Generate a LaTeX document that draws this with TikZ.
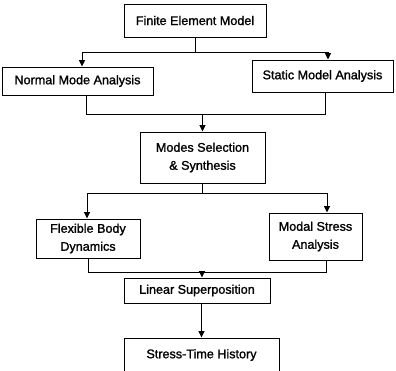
\documentclass[tikz,border=0pt]{standalone}
\usepackage{fontspec}
\setmainfont{Liberation Sans}[RawFeature={embolden=1.3}]
\usetikzlibrary{arrows.meta}
\begin{document}
\begin{tikzpicture}[x=1pt,y=-1pt,
  box/.style={draw, line width=1pt, rectangle, inner sep=0pt, align=center,
    font=\fontsize{12.6}{18}\selectfont},
  arr/.style={-{Triangle[length=6.5pt,width=6pt]}},
  ln/.style={line width=1pt}]
\useasboundingbox (0,0) rectangle (396,370);
\clip (0,0) rectangle (396,370);
\fill[white] (0,0) rectangle (396,370);
\node[box, minimum width=142pt, minimum height=33pt] (fem) at (195,20.5) {Finite Element Model};
\node[box, minimum width=151pt, minimum height=28pt] (normal) at (77.5,81) {Normal Mode Analysis};
\node[box, minimum width=141pt, minimum height=32pt] (static) at (322.5,76) {Static Model Analysis};
\node[box, minimum width=125pt, minimum height=51pt] (modes) at (202.5,157.5) {Modes Selection\\\& Synthesis};
\node[box, minimum width=104pt, minimum height=39pt] (flex) at (88,238.5) {Flexible Body\\Dynamics};
\node[box, minimum width=93pt, minimum height=47pt] (modal) at (315.5,236.5) {Modal Stress\\Analysis};
\node[box, minimum width=146pt, minimum height=25pt] (linear) at (197,290.5) {Linear Superposition};
\node[box, minimum width=155pt, minimum height=34pt] (stress) at (201.5,355) {Stress-Time History};
% junction coordinates
\coordinate (r1l) at (82,52);
\coordinate (r1r) at (328,52);
\coordinate (r2l) at (86,114);
\coordinate (r2r) at (325,114);
\coordinate (r3l) at (87,193);
\coordinate (r3r) at (327,193);
\coordinate (r4l) at (88,272);
\coordinate (r4r) at (326,272);
\coordinate (r4m) at (202,272);
% row 1
\draw[ln] (fem.south) -- (fem.south |- r1l);
\draw[ln] (r1l) -- (r1r);
\draw[ln,arr] (r1l) -- (r1l |- normal.north);
\draw[ln,arr] (r1r) -- (r1r |- static.north);
% row 2
\draw[ln] (r2l |- normal.south) -- (r2l) -- (r2r) -- (r2r |- static.south);
\draw[ln,arr] (modes.north |- r2l) -- (modes.north);
% row 3
\draw[ln] (modes.south) -- (modes.south |- r3l);
\draw[ln] (r3l) -- (r3r);
\draw[ln,arr] (r3l) -- (r3l |- flex.north);
\draw[ln,arr] (r3r) -- (r3r |- modal.north);
% row 4
\draw[ln] (r4l |- flex.south) -- (r4l) -- (r4r) -- (r4r |- modal.south);
\draw[ln,arr] (r4m) -- (r4m |- linear.north);
% last
\draw[ln,arr] (linear.south -| stress.north) -- (stress.north);
\end{tikzpicture}
\end{document}
